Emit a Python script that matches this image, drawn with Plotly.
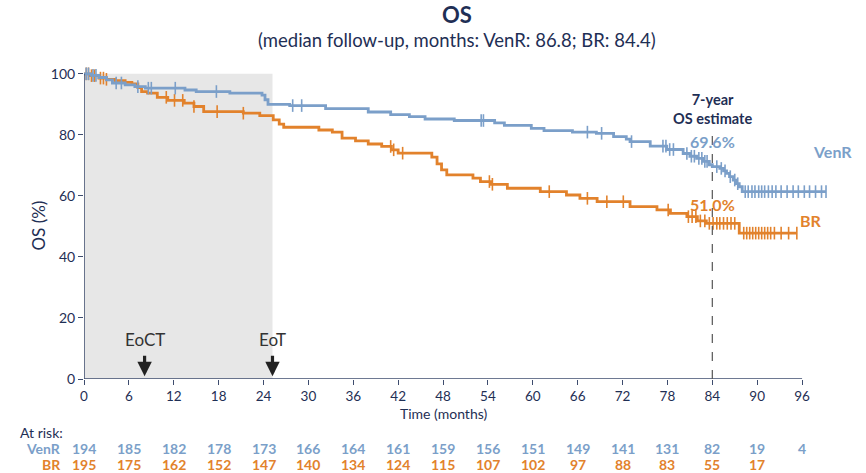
import plotly.graph_objects as go
import numpy as np

# ---------------- data ----------------
venr_t = [0, 1.0, 2.0, 3.0, 3.8, 5.5, 6.8, 8.2, 13.5, 15.0, 19.5, 23.8, 24.2, 24.6, 27.5, 32.3,
          38.0, 41.0, 43.5, 45.6, 49.5, 54.9, 56.2, 59.8, 61.5, 65.3, 68.5, 70.8, 72.5, 73.0,
          75.7, 77.9, 80.1, 81.0, 81.9, 82.8, 83.6, 84.0, 85.0, 85.5, 85.9, 86.3, 86.8, 87.2,
          87.6, 88.0, 99.2]
venr_s = [100, 99.5, 98.8, 98.0, 97.0, 96.4, 95.8, 95.3, 94.7, 94.2, 93.7, 93.0, 91.5, 90.0,
          89.6, 88.6, 87.5, 86.6, 86.0, 85.2, 84.7, 83.9, 83.1, 82.1, 81.4, 80.9, 80.5, 79.4,
          78.6, 77.8, 76.3, 75.2, 73.9, 73.0, 72.3, 71.3, 70.2, 69.6, 69.0, 68.2, 67.4, 66.3,
          65.2, 64.0, 63.0, 61.4, 61.4]
venr_cens = [0.3, 0.6, 1.2, 1.6, 4.3, 5.0, 7.2, 8.6, 9.0, 12.2, 17.7, 27.9, 29.1, 53.1, 53.4,
             67.3, 69.2, 73.2, 77.4, 77.8, 78.3, 78.8, 80.6, 81.2, 81.6, 82.2, 82.6, 83.0, 83.3,
             84.6, 85.2, 85.7, 86.4, 87.0, 87.4, 88.4, 88.8, 89.3, 89.7, 90.2, 90.6, 91.0, 91.5,
             92.0, 92.5, 93.2, 94.0, 94.8, 95.5, 96.3, 97.0, 97.8, 98.6, 99.2]

br_t = [0, 0.8, 2.0, 3.0, 4.2, 5.5, 6.4, 7.2, 7.7, 8.5, 9.8, 11.2, 13.4, 14.7, 16.0, 21.3,
        23.5, 25.3, 26.1, 26.7, 31.4, 33.2, 34.5, 36.3, 38.0, 39.8, 41.1, 42.0, 46.5, 47.2,
        47.8, 48.5, 52.0, 53.0, 54.4, 56.6, 61.0, 64.5, 66.3, 68.6, 73.0, 76.6, 78.4, 80.6,
        82.0, 83.2, 87.6, 95.3]
br_s = [100, 99.4, 98.6, 98.2, 97.8, 97.2, 96.7, 95.5, 94.2, 93.7, 92.3, 91.3, 90.4, 89.3,
        87.6, 87.1, 86.3, 84.9, 83.5, 82.5, 81.6, 80.9, 78.9, 78.0, 77.0, 76.2, 75.1, 74.0,
        72.7, 70.5, 68.5, 66.9, 65.8, 64.7, 63.8, 62.5, 61.4, 60.3, 59.2, 58.1, 56.5, 55.4,
        54.3, 53.2, 51.8, 51.0, 47.8, 47.8]
br_cens = [0.3, 0.6, 1.0, 1.4, 2.2, 2.6, 3.0, 11.0, 12.1, 13.2, 14.7, 17.8, 21.3, 41.0, 41.4,
           42.6, 54.2, 54.6, 62.2, 67.3, 69.9, 72.1, 78.1, 80.8, 81.3, 81.8, 82.4, 83.0, 83.6,
           84.1, 84.6, 85.0, 85.5, 86.0, 86.5, 87.0, 88.2, 88.6, 89.0, 89.4, 89.8, 90.2, 90.6,
           91.0, 91.4, 91.8, 92.3, 93.2, 94.2, 95.3]

risk_times = [0, 6, 12, 18, 24, 30, 36, 42, 48, 54, 60, 66, 72, 78, 84, 90, 96]
venr_risk = [194, 185, 182, 178, 173, 166, 164, 161, 159, 156, 151, 149, 141, 131, 82, 19, 4]
br_risk = [195, 175, 162, 152, 147, 140, 134, 124, 115, 107, 102, 97, 88, 83, 55, 17]

x_ticks = list(range(0, 97, 6))
y_ticks = list(range(0, 101, 20))

venr_est = "69.6%"
br_est = "51.0%"
landmark = 84
venr_period_end = 25.2
eoct_time = 8.1

# ---------------- style ----------------
BLUE = "#7B9FC9"
ORANGE = "#E2822C"
NAVY = "#1F2F55"
AXIS = "#3E4C6E"
FONT = "Lato"
PLOT_LEFT = 84
PLOT_W = 745


def px_to_paper(px):
    return (px - PLOT_LEFT) / float(PLOT_W)


def step_value(times, surv, t):
    idx = np.searchsorted(np.array(times), t, side="right") - 1
    return surv[max(idx, 0)]


fig = go.Figure()

# shaded time on VenR
fig.add_shape(type="rect", x0=0, x1=venr_period_end, y0=0, y1=100, xref="x", yref="y",
              fillcolor="#E7E7E7", line_width=0, layer="below")

for t, s, cens, col, name in [(br_t, br_s, br_cens, ORANGE, "BR"),
                              (venr_t, venr_s, venr_cens, BLUE, "VenR")]:
    fig.add_trace(go.Scatter(x=t, y=s, mode="lines", line=dict(color=col, width=2.8, shape="hv"),
                             name=name, showlegend=False, hoverinfo="skip"))
    fig.add_trace(go.Scatter(x=cens, y=[step_value(t, s, c) for c in cens], mode="markers",
                             marker=dict(symbol="line-ns-open", size=9, color=col,
                                         line=dict(color=col, width=1.6)),
                             showlegend=False, cliponaxis=False, hoverinfo="skip"))

# axis lines
fig.add_shape(type="line", x0=0, x1=96, y0=0, y1=0, xref="x", yref="y",
              line=dict(color=AXIS, width=1.5))
fig.add_shape(type="line", x0=0, x1=0, y0=0, y1=100, xref="x", yref="y",
              line=dict(color=AXIS, width=1.5))
# landmark dashed line
fig.add_shape(type="line", x0=landmark, x1=landmark, y0=0, y1=81, xref="x", yref="y",
              line=dict(color="#555555", width=1.2, dash="dash"))

ann = []


def add(**kw):
    kw.setdefault("showarrow", False)
    kw.setdefault("yanchor", "middle")
    kw.setdefault("xanchor", "center")
    ann.append(kw)


add(x=0.5, y=1.187, xref="paper", yref="paper", text="<b>OS</b>",
    font=dict(size=22, color=NAVY, family=FONT))
add(x=0.5, y=1.104, xref="paper", yref="paper",
    text="(median follow-up, months: VenR: 86.8; BR: 84.4)",
    font=dict(size=18.5, color=NAVY, family=FONT))
add(x=11.8, y=104.6, xref="x", yref="y", text="<b>Time on VenR</b>",
    font=dict(size=15, color="#262626", family=FONT))
add(x=landmark, y=88.5, xref="x", yref="y", text="<b>7-year<br>OS estimate</b>",
    font=dict(size=14.5, color=NAVY, family=FONT))
add(x=landmark, y=77.8, xref="x", yref="y", text="<b>" + venr_est + "</b>",
    font=dict(size=16, color=BLUE, family=FONT))
add(x=landmark, y=57.2, xref="x", yref="y", text="<b>" + br_est + "</b>",
    font=dict(size=16, color=ORANGE, family=FONT))
add(x=px_to_paper(832), y=74.4, xref="paper", yref="y", text="<b>VenR</b>",
    font=dict(size=16, color=BLUE, family=FONT))
add(x=px_to_paper(811), y=52.1, xref="paper", yref="y", text="<b>BR</b>",
    font=dict(size=16, color=ORANGE, family=FONT))
for lbl, xx in [("EoCT", eoct_time), ("EoT", venr_period_end)]:
    add(x=xx, y=12.8, xref="x", yref="y", text=lbl,
        font=dict(size=17, color="#333333", family=FONT))
    ann.append(dict(x=xx, y=0.9, xref="x", yref="y", text="", showarrow=True, ax=0, ay=-22,
                    arrowhead=2, arrowsize=0.9, arrowwidth=3.2, arrowcolor="#222222"))
add(x=48, y=-0.112, xref="x", yref="paper", text="Time (months)",
    font=dict(size=14, color=NAVY, family=FONT))
add(x=px_to_paper(38), y=0.5, xref="paper", yref="paper", text="OS (%)", textangle=-90,
    font=dict(size=17, color=NAVY, family=FONT))
add(x=px_to_paper(18), y=-0.173, xref="paper", xanchor="left", yref="paper", text="At risk:",
    font=dict(size=14, color=NAVY, family=FONT))
add(x=px_to_paper(63), y=-0.227, xref="paper", xanchor="right", yref="paper",
    text="<b>VenR</b>", font=dict(size=14, color=BLUE, family=FONT))
add(x=px_to_paper(63), y=-0.278, xref="paper", xanchor="right", yref="paper",
    text="<b>BR</b>", font=dict(size=14, color=ORANGE, family=FONT))
for tt, v in zip(risk_times, venr_risk):
    add(x=tt, y=-0.227, xref="x", yref="paper", text="<b>%d</b>" % v,
        font=dict(size=14, color=BLUE, family=FONT))
for tt, v in zip(risk_times, br_risk):
    add(x=tt, y=-0.278, xref="x", yref="paper", text="<b>%d</b>" % v,
        font=dict(size=14, color=ORANGE, family=FONT))

fig.update_layout(
    width=866, height=473,
    margin=dict(l=PLOT_LEFT, r=866 - PLOT_LEFT - PLOT_W, t=72, b=94),
    plot_bgcolor="white", paper_bgcolor="white",
    annotations=ann,
    xaxis=dict(range=[0, 99.6], tickvals=x_ticks, ticks="outside", ticklen=5, tickwidth=1.2,
               tickcolor=AXIS, showgrid=False, zeroline=False, showline=False,
               tickfont=dict(size=13.5, color=NAVY, family=FONT)),
    yaxis=dict(range=[0, 100.6], tickvals=y_ticks, ticks="outside", ticklen=5, tickwidth=1.2,
               tickcolor=AXIS, showgrid=False, zeroline=False, showline=False,
               tickfont=dict(size=14, color=NAVY, family=FONT)),
)

fig.write_html("out.html")
